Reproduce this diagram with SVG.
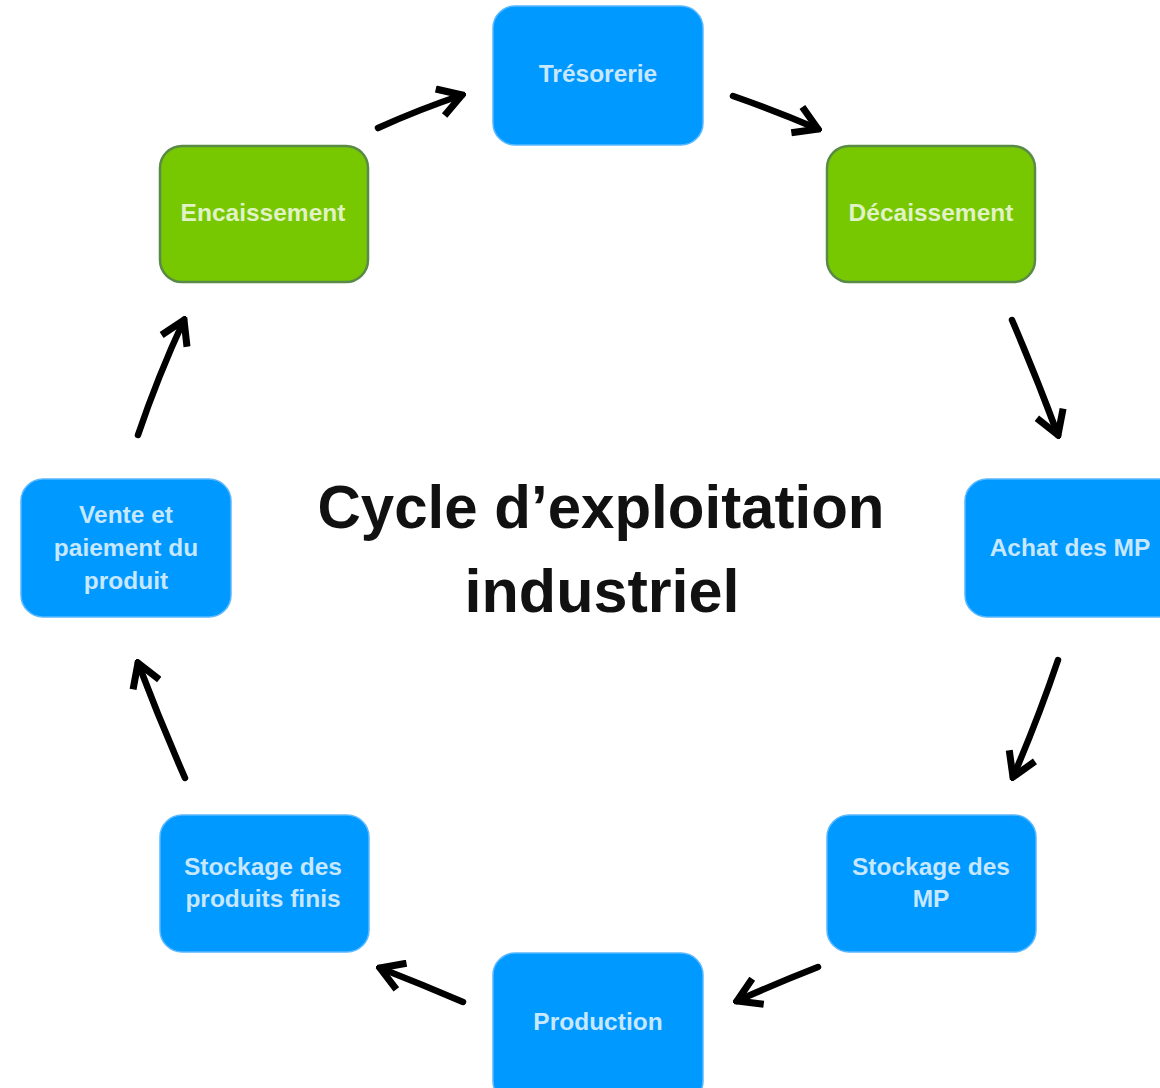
<svg xmlns="http://www.w3.org/2000/svg" width="1160" height="1088" viewBox="0 0 1160 1088">
<style>
.blue{fill:#0099ff;stroke:#5ab8ff;stroke-width:1.5}
.green{fill:#77c800;stroke:#5a8a48;stroke-width:2.5}
.lbl{font-family:"Liberation Sans",Arial,sans-serif;font-weight:bold;font-size:24.5px;fill:#ffffff;fill-opacity:0.78;text-anchor:middle}
.title{font-family:"Liberation Sans",Arial,sans-serif;font-weight:bold;font-size:62px;fill:#111111;text-anchor:middle}
.arr{fill:none;stroke:#000000;stroke-width:6.5;stroke-linecap:round;marker-end:url(#head)}
</style>
<defs>
<marker id="head" viewBox="0 0 34 34" refX="30" refY="17" markerWidth="34" markerHeight="34" markerUnits="userSpaceOnUse" orient="auto">
<path d="M7,3 L30,17 L7,31" fill="none" stroke="#000" stroke-width="7" stroke-linejoin="miter"/>
</marker>
</defs>
<rect width="1160" height="1088" fill="#ffffff"/>
<g id="title">
<text class="title" x="601" y="528" textLength="567" lengthAdjust="spacingAndGlyphs">Cycle d’exploitation</text>
<text class="title" x="602" y="612" textLength="275" lengthAdjust="spacingAndGlyphs">industriel</text>
</g>
<g id="n-tresorerie"><rect class="blue" x="493" y="6" width="210" height="139" rx="22"/><text class="lbl" x="598" y="82">Trésorerie</text></g>
<g id="n-encaissement"><rect class="green" x="160" y="146" width="208" height="136" rx="22"/><text class="lbl" x="263" y="221">Encaissement</text></g>
<g id="n-decaissement"><rect class="green" x="827" y="146" width="208" height="136" rx="22"/><text class="lbl" x="931" y="221">Décaissement</text></g>
<g id="n-achat"><rect class="blue" x="965" y="479" width="215" height="138" rx="22"/><text class="lbl" x="1070" y="556">Achat des MP</text></g>
<g id="n-stockmp"><rect class="blue" x="827" y="815" width="209" height="137" rx="22"/><text class="lbl" x="931" y="875">Stockage des</text><text class="lbl" x="931" y="907">MP</text></g>
<g id="n-production"><rect class="blue" x="493" y="953" width="210" height="150" rx="22"/><text class="lbl" x="598" y="1030">Production</text></g>
<g id="n-stockpf"><rect class="blue" x="160" y="815" width="209" height="137" rx="22"/><text class="lbl" x="263" y="875">Stockage des</text><text class="lbl" x="263" y="907">produits finis</text></g>
<g id="n-vente"><rect class="blue" x="21" y="479" width="210" height="138" rx="22"/><text class="lbl" x="126" y="523">Vente et</text><text class="lbl" x="126" y="556">paiement du</text><text class="lbl" x="126" y="589">produit</text></g>
<g id="connectors">
<path class="arr" d="M378,128 Q420,109 462,95"/>
<path class="arr" d="M733,96 Q776,111 818,129"/>
<path class="arr" d="M1012,320 Q1036,376 1058,435"/>
<path class="arr" d="M1058,660 Q1038,719 1013,777"/>
<path class="arr" d="M818,967 Q777,983 737,1001"/>
<path class="arr" d="M463,1002 Q421,984 380,968"/>
<path class="arr" d="M185,778 Q160,721 138,663"/>
<path class="arr" d="M138,435 Q158,376 184,320"/>
</g>
</svg>
